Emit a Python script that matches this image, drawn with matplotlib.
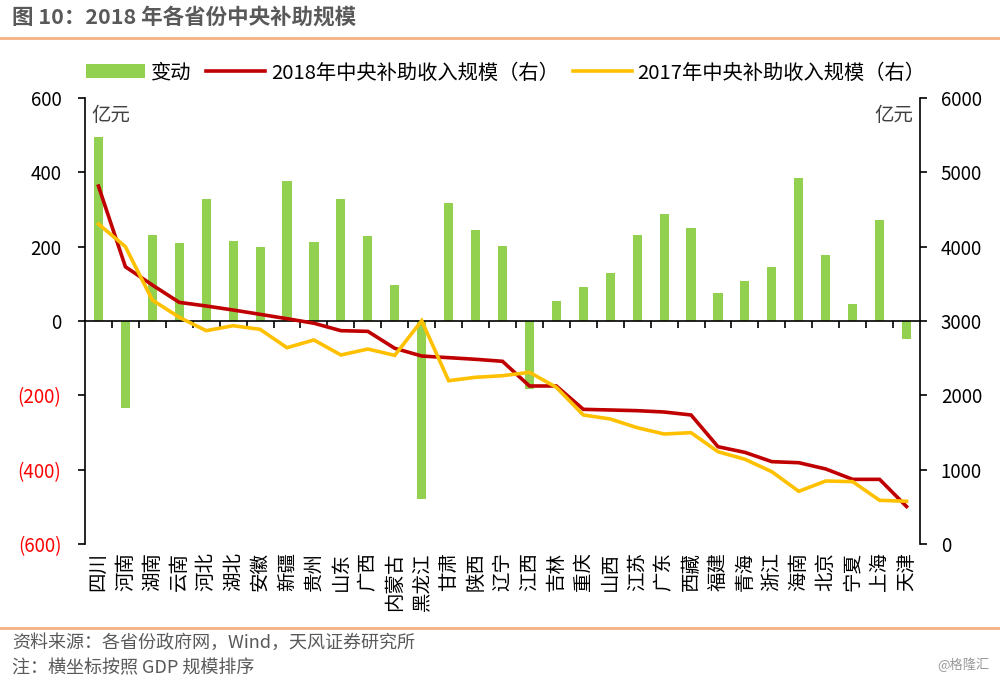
import matplotlib
matplotlib.use('Agg')
import matplotlib.pyplot as plt
from matplotlib.patches import Patch
from matplotlib.lines import Line2D
import numpy as np

plt.rcParams['font.family'] = ['Noto Sans CJK SC', 'DejaVu Sans']

# Data
provinces = ['四川', '河南', '湖南', '云南', '河北', '湖北', '安徽', '新疆', '贵州', '山东',
             '广西', '内蒙古', '黑龙江', '甘肃', '陕西', '辽宁', '江西', '吉林', '重庆', '山西',
             '江苏', '广东', '西藏', '福建', '青海', '浙江', '海南', '北京', '宁夏', '上海', '天津']
change = [496, -234, 231, 209, 327, 216, 200, 378, 212, 329,
          230, 97, -480, 317, 244, 202, -183, 53, 91, 129,
          232, 288, 249, 75, 109, 146, 386, 178, 46, 271, -49]
subsidy_2018 = [4815, 3730, 3484, 3251, 3202, 3148, 3090, 3031, 2970, 2870,
                2861, 2633, 2529, 2507, 2485, 2458, 2126, 2126, 1812, 1803,
                1794, 1776, 1736, 1309, 1233, 1108, 1094, 1010, 870, 870, 505]
subsidy_2017 = [4305, 4000, 3282, 3050, 2870, 2937, 2888, 2641, 2745, 2543,
                2623, 2538, 3004, 2197, 2243, 2264, 2310, 2108, 1736, 1682,
                1565, 1480, 1498, 1242, 1140, 973, 709, 848, 839, 588, 575]
left_ticks = [-600, -400, -200, 0, 200, 400, 600]
left_labels = ['(600)', '(400)', '(200)', '0', '200', '400', '600']
right_ticks = [0, 1000, 2000, 3000, 4000, 5000, 6000]

green = '#92D050'
red = '#C00000'
yellow = '#FFC000'
gray = '#404040'
orange = '#F4B183'

fig = plt.figure(figsize=(10, 6.82), dpi=100)
ax = fig.add_axes([0.085, 0.2023, 0.835, 0.654])
ax2 = ax.twinx()

x = np.arange(len(provinces))
ax.bar(x, change, width=0.34, color=green, zorder=2)
ax2.plot(x, subsidy_2018, color=red, lw=2.6, solid_joinstyle='miter')
ax2.plot(x, subsidy_2017, color=yellow, lw=2.6, solid_joinstyle='miter')

ax.set_xlim(-0.5, len(provinces) - 0.5)
ax.set_ylim(-600, 600)
ax2.set_ylim(0, 6000)

# left axis
ax.set_yticks(left_ticks)
ax.set_yticklabels(left_labels, fontsize=13.5)
for lbl, v in zip(ax.get_yticklabels(), left_ticks):
    lbl.set_color('#FF0000' if v < 0 else 'black')
ax.tick_params(axis='y', direction='out', length=5, width=1.2, pad=12)

# category axis on the zero line
ax.spines['bottom'].set_position(('data', 0))
ax.spines['bottom'].set_linewidth(1.2)
ax.set_xticks(np.arange(0.5, len(provinces) - 1, 1))
ax.set_xticklabels([])
ax.tick_params(axis='x', direction='out', length=5, width=1.2)
for i, name in enumerate(provinces):
    ax.text(i, -0.018, name, transform=ax.get_xaxis_transform(), rotation=90,
            ha='center', va='top', fontsize=14, color='black')

for s in ['top', 'right']:
    ax.spines[s].set_visible(False)
ax.spines['left'].set_linewidth(1.2)

# right axis
ax2.set_yticks(right_ticks)
ax2.set_yticklabels([str(v) for v in right_ticks], fontsize=13.5)
ax2.tick_params(axis='y', direction='out', length=5, width=1.2, pad=10)
for s in ['top', 'left', 'bottom']:
    ax2.spines[s].set_visible(False)
ax2.spines['right'].set_linewidth(1.2)

ax.text(0.008, 0.985, '亿元', transform=ax.transAxes, ha='left', va='top',
        fontsize=14, color=gray)
ax2.text(0.992, 0.985, '亿元', transform=ax.transAxes, ha='right', va='top',
         fontsize=14, color=gray)

# legend
handles = [Patch(facecolor=green, edgecolor='none'),
           Line2D([0], [0], color=red, lw=2.6),
           Line2D([0], [0], color=yellow, lw=2.6)]
labels = ['变动', '2018年中央补助收入规模（右）', '2017年中央补助收入规模（右）']
fig.legend(handles, labels, loc='center left', bbox_to_anchor=(0.068, 0.893), ncol=3,
           frameon=False, fontsize=14.6, handlelength=2.9, handletextpad=0.3,
           columnspacing=0.7, handleheight=0.7)

# header and footer
fig.text(0.012, 0.975, '图 10：2018 年各省份中央补助规模', fontsize=15.5, fontweight='bold',
         color='#595959', ha='left', va='center')
fig.add_artist(Line2D([0, 1], [1 - 38 / 682, 1 - 38 / 682], color=orange, lw=2,
                      transform=fig.transFigure))
fig.add_artist(Line2D([0, 1], [1 - 628 / 682, 1 - 628 / 682], color=orange, lw=2,
                      transform=fig.transFigure))
fig.text(0.012, 1 - 643 / 682, '资料来源：各省份政府网，Wind，天风证券研究所', fontsize=13,
         color='#595959', ha='left', va='center')
fig.text(0.012, 1 - 668 / 682, '注：横坐标按照 GDP 规模排序', fontsize=13,
         color='#595959', ha='left', va='center')
fig.text(0.99, 1 - 665 / 682, '@格隆汇', fontsize=9.5, color='#999999',
         ha='right', va='center')

fig.savefig('out.png', dpi=100, facecolor='white')
